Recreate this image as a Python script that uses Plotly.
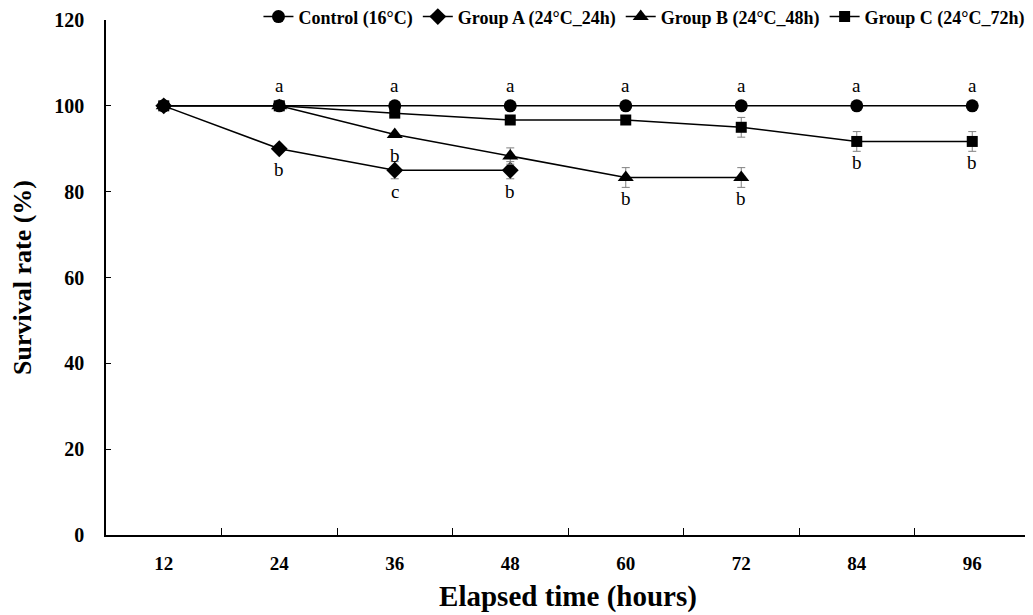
import plotly.graph_objects as go

hours = [12, 24, 36, 48, 60, 72, 84, 96]
control = [100, 100, 100, 100, 100, 100, 100, 100]
group_a = [100, 90, 85, 85]
group_b = [100, 100, 93.3, 88.3, 83.3, 83.3]
group_c = [100, 100, 98.3, 96.7, 96.7, 95.0, 91.7, 91.7]
err_a = [0, 0, 2.0, 2.0]
err_b = [0, 0, 0, 1.9, 2.3, 2.3]
err_c = [0, 0, 0, 0, 0, 2.3, 2.3, 2.3]
boundaries = [18, 30, 42, 54, 66, 78, 90, 102]

names = ["Control (16\u00b0C)", "Group A (24\u00b0C_24h)", "Group B (24\u00b0C_48h)", "Group C (24\u00b0C_72h)"]
series = [control, group_a, group_b, group_c]
errors = [None, err_a, err_b, err_c]
symbols = ["circle", "diamond", "triangle-up", "square"]
msizes = [13, 13, 14, 11]

# significance letters: (hour, series index, letter, position)
letters = [
    (24, 0, "a", "above"), (24, 1, "b", "below"),
    (36, 0, "a", "above"), (36, 2, "b", "below"), (36, 1, "c", "below"),
    (48, 0, "a", "above"), (48, 1, "b", "below"),
    (60, 0, "a", "above"), (60, 2, "b", "below"),
    (72, 0, "a", "above"), (72, 2, "b", "below"),
    (84, 0, "a", "above"), (84, 3, "b", "below"),
    (96, 0, "a", "above"), (96, 3, "b", "below"),
]

FONT = "Liberation Serif"
fig = go.Figure()
for name, vals, err, sym, ms in zip(names, series, errors, symbols, msizes):
    fig.add_trace(go.Scatter(
        x=hours[:len(vals)], y=vals, name=name, mode="lines+markers",
        line=dict(color="black", width=1.5),
        marker=dict(symbol=sym, size=ms, color="black"),
        error_y=dict(type="data", array=err, color="#808080", thickness=1, width=4,
                     visible=err is not None),
    ))

for h, si, txt, pos in letters:
    yv = series[si][hours.index(h)]
    fig.add_annotation(x=h, y=yv, text=txt, showarrow=False,
                       yshift=20 if pos == "above" else -21,
                       font=dict(family=FONT, size=19, color="black"))

# page body has an 8px default margin, so the figure is 8px smaller and offset
fig.update_layout(
    width=1025, height=607,
    margin=dict(l=98, r=3, t=12, b=80, autoexpand=False),
    paper_bgcolor="white", plot_bgcolor="white",
    font=dict(family=FONT, color="black"),
    showlegend=True,
    legend=dict(orientation="h", x=0.165, xanchor="left", y=1.006, yanchor="middle",
                font=dict(family=FONT, size=18, weight="bold"), itemwidth=30,
                bgcolor="rgba(0,0,0,0)", tracegroupgap=0),
    xaxis=dict(range=[6, 102], tickvals=hours, ticktext=[str(h) for h in hours],
               ticks="", showgrid=False, zeroline=False, showline=True,
               linecolor="black", linewidth=1.5, ticklabelstandoff=10,
               tickfont=dict(family=FONT, size=19, weight="bold"),
               minor=dict(tickvals=boundaries, ticks="inside", ticklen=7,
                          tickcolor="black", tickwidth=1, showgrid=False),
               title=dict(text="Elapsed time (hours)", standoff=13,
                          font=dict(family=FONT, size=29, weight="bold"))),
    yaxis=dict(range=[0, 120], dtick=20, ticks="inside", ticklen=5, tickcolor="black",
               showgrid=False, zeroline=False, showline=True, linecolor="black",
               linewidth=1.5, ticklabelstandoff=16,
               tickfont=dict(family=FONT, size=20, weight="bold"),
               title=dict(text="Survival rate (%)", standoff=16,
                          font=dict(family=FONT, size=26, weight="bold"))),
)
fig.write_html("out.html")
